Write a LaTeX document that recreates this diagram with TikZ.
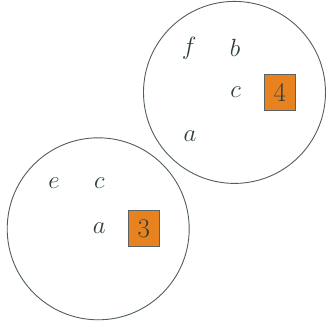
\documentclass[tikz,border=0pt]{standalone}
\definecolor{ink}{HTML}{2E3D3D}
\definecolor{ring}{HTML}{4F5F5C}
\definecolor{boxorange}{HTML}{E8821E}
\begin{document}
\begin{tikzpicture}[x=1pt,y=-1pt,
  ringstyle/.style={draw=ring,line width=0.9pt,circle,minimum size=182pt,inner sep=0pt},
  lbl/.style={text=ink,font=\fontsize{24}{28}\selectfont,inner sep=0pt},
  numbox/.style={draw=ink!80,fill=boxorange,line width=0.7pt,minimum width=31pt,minimum height=36pt,inner sep=0pt,text=ink,font=\fontsize{27}{30}\selectfont}]
\useasboundingbox (0,0) rectangle (327,325);
\node[ringstyle] (C1) at (234.5,92.4) {};
\node[ringstyle] (C2) at (98.2,228.8) {};
\node[lbl] (f1) at (189.3,48) {$f$};
\node[lbl] (b1) at (235,48) {$b$};
\node[lbl] (c1) at (235.7,92) {$c$};
\node[lbl] (a1) at (190,136) {$a$};
\node[numbox] (n4) at (279.8,92.4) {4};
\node[lbl] (e2) at (54,183.5) {$e$};
\node[lbl] (c2) at (99.3,183.5) {$c$};
\node[lbl] (a2) at (99.3,228.5) {$a$};
\node[numbox] (n3) at (143.7,228.8) {3};
\end{tikzpicture}
\end{document}
